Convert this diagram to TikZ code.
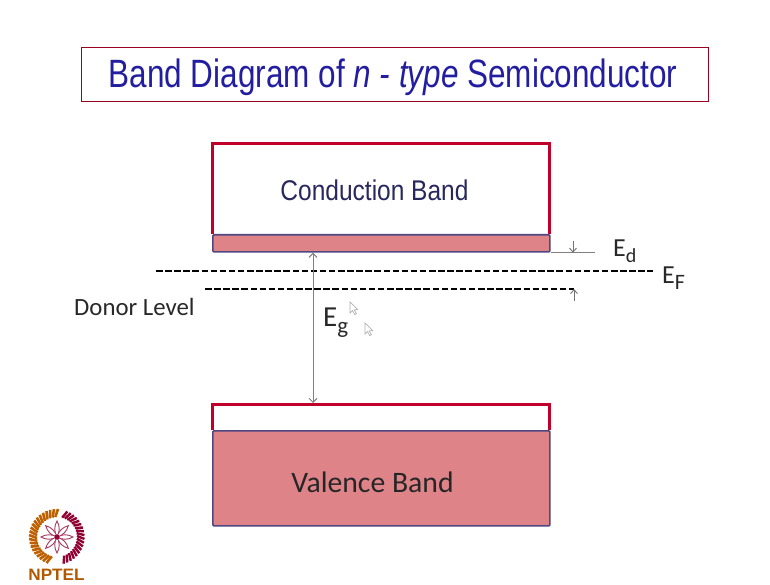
\documentclass[tikz,border=0pt]{standalone}
\usepackage{fontspec}
\setmainfont{Carlito}
\newfontfamily\titlefont[FakeStretch=0.797]{Liberation Sans}
\newfontfamily\bandfont[FakeStretch=0.86]{Liberation Sans}
\newfontfamily\logofont[FakeStretch=1.04]{Liberation Sans}
\usetikzlibrary{arrows.meta}
\definecolor{bandred}{RGB}{192,0,40}
\definecolor{bandfill}{RGB}{222,132,136}
\definecolor{bandedge}{RGB}{80,70,130}
\definecolor{titleblue}{RGB}{35,30,160}
\definecolor{condblue}{RGB}{40,40,95}
\definecolor{labelgrey}{RGB}{40,40,40}
\tikzset{
  titlebox/.style={draw=bandred!80!black,line width=0.8pt,fill=white,minimum width=627pt,minimum height=54pt,inner sep=0pt},
  redband/.style={draw=bandred,line width=3pt},
  fillband/.style={fill=bandfill,draw=bandedge,line width=1.7pt,minimum width=337pt,inner sep=0pt,anchor=north west,rounded corners=1pt},
  dashline/.style={draw=black,line width=2.2pt,dash pattern=on 6.5pt off 2.6pt},
  thin arrow/.style={draw=black!55,line width=0.9pt,-{Straight Barb[length=4pt,width=7pt]}},
  cursor/.style={draw=black!30,line width=0.7pt,fill=white},
  lbl/.style={inner sep=0pt,text=labelgrey,font=\fontsize{26}{26}\selectfont}
}
\begin{document}
\begin{tikzpicture}[x=1pt,y=-1pt]
\useasboundingbox (0,0) rectangle (770,585);
\fill[white] (0,0) rectangle (770,585);
% title
\node[titlebox,anchor=north west] (title) at (81,47) {};
\node[inner sep=0pt,font=\titlefont\fontsize{39.5}{39.5}\selectfont,text=titleblue,anchor=base] (titletext) at (393,88)
  {Band Diagram of \textit{n - type} Semiconductor};
% conduction band
\draw[redband,fill=white] (212,234) -- (212,144) -- (549.5,144) -- (549.5,234);
\node[fillband,minimum height=17pt] (cbfill) at (212,234) {};
\node[inner sep=0pt,text=condblue,font=\bandfont\fontsize{28.5}{28.5}\selectfont] (cbtext) at (374.5,190) {Conduction Band};
% valence band
\draw[redband,fill=white] (212,430) -- (212,404) -- (549.5,404) -- (549.5,430);
\node[fillband,minimum height=95pt] (vbfill) at (212,430) {};
\node[inner sep=0pt,text=black!85,font=\fontsize{29.7}{29.7}\selectfont] (vbtext) at (372.5,482.5) {Valence Band};
% levels
\coordinate (efL) at (156,271);
\coordinate (efR) at (653,271);
\coordinate (dL) at (205,289);
\coordinate (dR) at (574,289);
\draw[dashline] (efL) -- (efR);
\draw[dashline] (dL) -- (dR);
% Eg arrow
\coordinate (egT) at (313,0 |- cbfill.south);
\coordinate (egB) at (313,0 |- vbfill.north);
\path (egB) ++(0,-27) coordinate (egB);
\draw[draw=black!50,line width=1pt,{Straight Barb[length=4pt,width=8pt]}-{Straight Barb[length=4pt,width=8pt]}] (egT) -- (egB);
% Ed marks
\path (cbfill.south east) ++(44,0) coordinate (edTick);
\draw[draw=black!50,line width=1pt] (cbfill.south east) -- (edTick);
\coordinate (edB) at (573,0 |- cbfill.south);
\path (edB) ++(0,-12) coordinate (edA);
\draw[thin arrow] (edA) -- (edB);
\coordinate (edD) at (574,289);
\path (edD) ++(0,12) coordinate (edC);
\draw[thin arrow] (edC) -- (edD);
% labels
\node[lbl,anchor=base west] (ed) at (613,256) {E\raisebox{-6pt}{\fontsize{20}{20}\selectfont d}};
\node[lbl,anchor=base west] (ef) at (662,283) {E\raisebox{-6pt}{\fontsize{22}{22}\selectfont F}};
\node[lbl,anchor=base west,font=\fontsize{29}{29}\selectfont] (eg) at (323,326) {E\raisebox{-7pt}{\fontsize{23}{23}\selectfont g}};
\node[inner sep=0pt,anchor=base west,text=labelgrey,font=\fontsize{24.8}{24.8}\selectfont] (donor) at (74,315) {Donor Level};
% pointer traces
\foreach \x/\y in {350/302,365/323}{
  \draw[cursor] (\x,\y) -- ++(0,11) -- ++(2.6,-2.4) -- ++(2.2,4) -- ++(1.6,-.9) -- ++(-2.1,-3.8) -- ++(3.4,-.4) -- cycle;
}
% logo
\begin{scope}[shift={(57,537)}]
  \foreach \a in {0,45,...,315}{
    \draw[rotate=\a,draw=purple!55!gray,line width=0.9pt,fill=white] (0,0) .. controls (3,-5) and (3,-11) .. (0,-16) .. controls (-3,-11) and (-3,-5) .. (0,0);
  }
  \fill[purple!80!black] (0,0) circle (2.5);
  \foreach \a in {105,113,...,265}{
    \draw[orange!75!black,line width=2.6pt] (\a:20) -- (\a+7:28);
  }
  \foreach \a in {285,293,...,430}{
    \draw[purple!75!black,line width=2.4pt] (\a:20) -- (\a+7:27.5);
  }
\end{scope}
\node[inner sep=0pt,text=orange!70!black,font=\logofont\bfseries\fontsize{16.5}{16.5}\selectfont] (nptel) at (56.5,574.5) {NPTEL};
\end{tikzpicture}
\end{document}
